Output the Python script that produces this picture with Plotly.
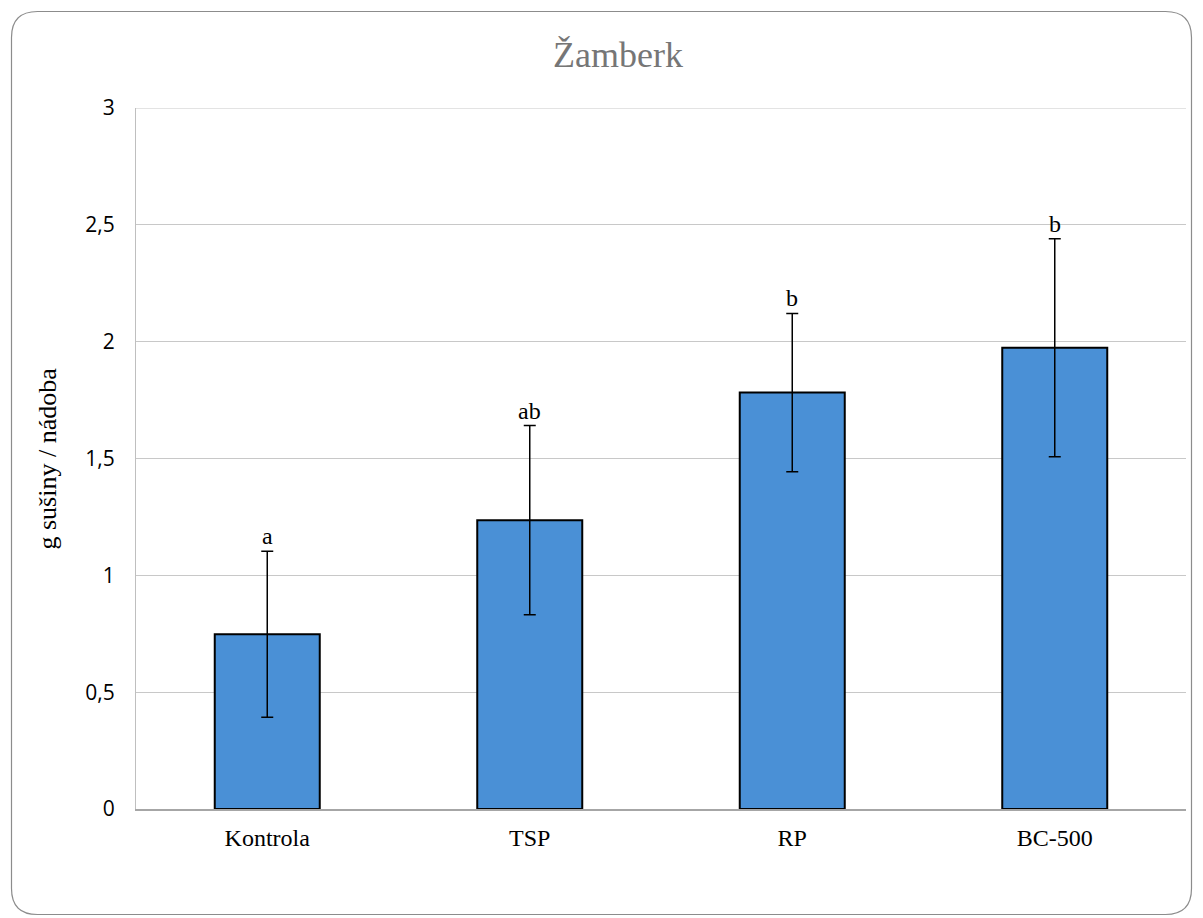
import plotly.graph_objects as go

# data
categories = ["Kontrola", "TSP", "RP", "BC-500"]
means = [0.748, 1.236, 1.782, 1.974]
errors = [0.355, 0.405, 0.339, 0.466]
letters = ["a", "ab", "b", "b"]
y_ticks = [0, 0.5, 1, 1.5, 2, 2.5, 3]
y_tick_text = ["0", "0,5", "1", "1,5", "2", "2,5", "3"]

# page body has an 8px margin, so the figure is sized/placed to compensate
OFF = 8
W, H = 1203 - OFF, 918 - OFF
L, T = 136 - OFF, 108 - OFF
R = W - (1186 - OFF)
B = H - (809 - OFF)
PW, PH = W - L - R, H - T - B

SERIF = "Liberation Serif, Times New Roman, serif"
GRID = "#c8c8c8"


def px_x(px):
    # reference pixel -> paper x
    return (px - OFF - L) / PW


def px_y(py):
    # reference pixel -> paper y
    return (H - B - (py - OFF)) / PH


fig = go.Figure()
fig.add_trace(go.Bar(
    x=categories, y=means, width=0.4,
    marker=dict(color="#4a90d6", line=dict(color="black", width=2)),
    error_y=dict(type="data", array=errors, visible=True,
                 color="black", thickness=1.5, width=6),
    showlegend=False, hoverinfo="skip",
))

# significance letters above the error bars
for cat, m, e, lab in zip(categories, means, errors, letters):
    fig.add_annotation(x=cat, y=m + e, text=lab, showarrow=False,
                       yanchor="bottom", yshift=0,
                       font=dict(family=SERIF, size=24, color="black"))

# y axis title
fig.add_annotation(text="g sušiny / nádoba", textangle=-90, showarrow=False,
                   xref="paper", yref="paper", x=px_x(47), y=0.5,
                   xanchor="center", yanchor="middle",
                   font=dict(family=SERIF, size=26, color="black"))

# chart title
fig.add_annotation(text="Žamberk", showarrow=False,
                   xref="paper", yref="paper", x=px_x(618), y=px_y(55),
                   xanchor="center", yanchor="middle",
                   font=dict(family=SERIF, size=36, color="#767676"))

# top gridline (plotly drops the one on the plot edge)
fig.add_shape(type="line", xref="paper", yref="y", x0=0, x1=1,
              y0=y_ticks[-1], y1=y_ticks[-1], line=dict(color=GRID, width=1),
              layer="below")

# rounded chart border
x0, x1 = px_x(11.5), px_x(1191.5)
y0, y1 = px_y(914.5), px_y(11.5)
r = 26
rx, ry = r / PW, r / PH
path = (f"M {x0 + rx} {y1} L {x1 - rx} {y1} Q {x1} {y1} {x1} {y1 - ry} "
        f"L {x1} {y0 + ry} Q {x1} {y0} {x1 - rx} {y0} "
        f"L {x0 + rx} {y0} Q {x0} {y0} {x0} {y0 + ry} "
        f"L {x0} {y1 - ry} Q {x0} {y1} {x0 + rx} {y1} Z")
fig.add_shape(type="path", path=path, xref="paper", yref="paper",
              line=dict(color="#8c8c8c", width=1.2))

fig.update_layout(
    width=W, height=H,
    margin=dict(l=L, r=R, t=T, b=B),
    paper_bgcolor="white", plot_bgcolor="white",
    bargap=0.6,
)
fig.update_xaxes(
    showline=True, linecolor="#a6a6a6", linewidth=1.5,
    showgrid=False, ticks="", ticklabelstandoff=6,
    tickfont=dict(family=SERIF, size=24, color="black"),
)
fig.update_yaxes(
    range=[0, 3], tickvals=y_ticks, ticktext=y_tick_text,
    showgrid=True, gridcolor=GRID, gridwidth=1,
    showline=True, linecolor="#bfbfbf", linewidth=1,
    zeroline=False, ticks="", ticklabelstandoff=16,
    tickfont=dict(family="Open Sans, sans-serif", size=21, color="black"),
)

fig.write_html("out.html")
